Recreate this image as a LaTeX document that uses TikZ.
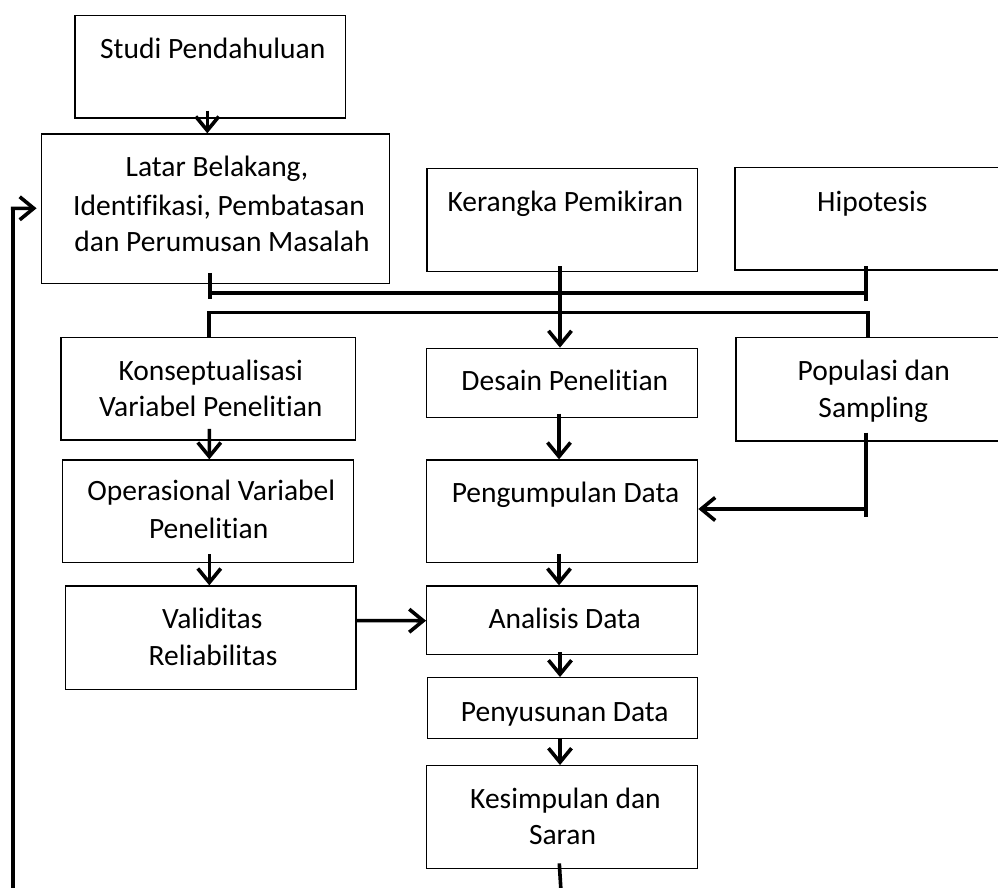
\documentclass[tikz,border=0pt]{standalone}
\usepackage{fontspec}
\setmainfont{Carlito}[Ligatures={NoCommon,NoContextual},RawFeature={-liga;-clig;-calt;-dlig}]
\usetikzlibrary{arrows.meta}
\begin{document}
\begin{tikzpicture}[x=1pt,y=-1pt,
  box/.style={draw=black,line width=1.3pt,rectangle,inner sep=0pt,fill=none},
  lbl/.style={inner sep=0pt,anchor=base,font=\fontsize{29.5}{37}\selectfont},
  conn/.style={draw=black,line width=3.6pt},
  arr/.style={conn,-{Straight Barb[length=14pt,width=23pt]}}]
\useasboundingbox (0,0) rectangle (998,888);
\clip (0,0) rectangle (998,888);
% boxes
\node[box,minimum width=270.5pt,minimum height=102.3pt] (studi) at (210.25,66.85) {};
\node[box,minimum width=347.6pt,minimum height=149.3pt] (latar) at (215.5,208.65) {};
\node[box,minimum width=270.7pt,minimum height=103pt] (kerangka) at (562.35,219.8) {};
\node[box,minimum width=276pt,minimum height=102.7pt] (hipotesis) at (873,218.65) {};
\node[box,minimum width=294.3pt,minimum height=102.7pt] (konsep) at (208.15,388.65) {};
\node[box,minimum width=270.6pt,minimum height=69.4pt] (desain) at (562,383) {};
\node[box,minimum width=275pt,minimum height=103.3pt] (populasi) at (873.5,389.35) {};
\node[box,minimum width=290.6pt,minimum height=102.7pt] (oper) at (208,511.35) {};
\node[box,minimum width=271pt,minimum height=102.7pt] (kumpul) at (562.2,511.35) {};
\node[box,minimum width=290.3pt,minimum height=103.3pt] (valid) at (210.85,637.65) {};
\node[box,minimum width=271pt,minimum height=68.3pt] (analisis) at (562.2,620.15) {};
\node[box,minimum width=270.4pt,minimum height=60.6pt] (susun) at (562.5,708) {};
\node[box,minimum width=271pt,minimum height=103pt] (simpul) at (562.2,817.2) {};
% texts
\node[lbl] (t-studi) at (212.8,58.7) {Studi Pendahuluan};
\node[lbl] (t-latar1) at (217,176.7) {Latar Belakang,};
\node[lbl] (t-latar2) at (219,215) {Identifikasi, Pembatasan};
\node[lbl] (t-latar3) at (222,251.7) {dan Perumusan Masalah};
\node[lbl] (t-kerangka) at (565.3,211.7) {Kerangka Pemikiran};
\node[lbl] (t-hipo) at (872.3,211) {Hipotesis};
\node[lbl] (t-konsep1) at (210.8,380) {Konseptualisasi};
\node[lbl] (t-konsep2) at (210.8,416.7) {Variabel Penelitian};
\node[lbl] (t-desain) at (564.8,390) {Desain Penelitian};
\node[lbl] (t-pop1) at (873.8,380.7) {Populasi dan};
\node[lbl] (t-pop2) at (873.3,417.7) {Sampling};
\node[lbl] (t-oper1) at (211.3,500.7) {Operasional Variabel};
\node[lbl] (t-oper2) at (208.7,538.3) {Penelitian};
\node[lbl] (t-kumpul) at (565.5,502.7) {Pengumpulan Data};
\node[lbl] (t-valid1) at (212.3,628.3) {Validitas};
\node[lbl] (t-valid2) at (213,665.7) {Reliabilitas};
\node[lbl] (t-analisis) at (564.7,628) {Analisis Data};
\node[lbl] (t-susun) at (564.8,721) {Penyusunan Data};
\node[lbl] (t-simpul1) at (565.5,808.3) {Kesimpulan dan};
\node[lbl] (t-simpul2) at (562.5,844.3) {Saran};
% named junction points
\coordinate (j1a) at (210,292.7);
\coordinate (j1b) at (865.7,292.7);
\coordinate (j2a) at (209,312.3);
\coordinate (j2b) at (868,312.3);
\coordinate (popc) at (865.7,509);
\coordinate (loopb) at (12.7,900);
\coordinate (loopt) at (12.7,208.3);
\coordinate (simpulb) at (561.5,900);
% connectors
\draw[arr] ([xshift=-2.95pt,yshift=8pt]studi.south) -- ([xshift=-8.2pt]latar.north);
\draw[conn] ([xshift=-5.5pt,yshift=11pt]latar.south) -- ([xshift=-5.5pt,yshift=-15pt]latar.south);
\draw[conn] (j1a) -- (j1b);
\draw[conn] ([xshift=-7.3pt,yshift=4.3pt]hipotesis.south) -- ([xshift=-7.3pt,yshift=-30pt]hipotesis.south);
\draw[arr] ([xshift=-2.35pt,yshift=5.6pt]kerangka.south) -- ([xshift=-2pt]desain.north);
\draw[conn] ([xshift=0.85pt]konsep.north) -- (j2a) -- (j2b) -- ([xshift=-5.5pt]populasi.north);
\draw[arr] ([xshift=1.15pt,yshift=11.7pt]konsep.south) -- ([xshift=1.3pt]oper.north);
\draw[arr] ([xshift=1.3pt,yshift=8.9pt]oper.south) -- ([xshift=-1.55pt]valid.north);
\draw[arr] ([yshift=17pt]valid.east) -- ([yshift=-0.55pt]analisis.west);
\draw[arr] ([xshift=-3pt,yshift=4.7pt]desain.south) -- ([xshift=-3.2pt]kumpul.north);
\draw[conn] ([xshift=-7.8pt,yshift=9pt]populasi.south) -- ([xshift=-7.8pt,yshift=-75.7pt]populasi.south);
\draw[arr] (popc) -- ([yshift=2.35pt]kumpul.east);
\draw[arr] ([xshift=-3.2pt,yshift=9.7pt]kumpul.south) -- ([xshift=-3.2pt]analisis.north);
\draw[arr] ([xshift=-2.2pt,yshift=2.6pt]analisis.south) -- ([xshift=-2.5pt]susun.north);
\draw[arr] ([xshift=-2.5pt]susun.south) -- ([xshift=-2.2pt]simpul.north);
\draw[conn] ([xshift=-2.9pt,yshift=6pt]simpul.south) -- (simpulb);
\draw[conn] (loopb) -- (loopt);
\draw[arr] ([xshift=-1.8pt]loopt) -- ([xshift=-4.5pt,yshift=0.35pt]latar.west);
\end{tikzpicture}
\end{document}
